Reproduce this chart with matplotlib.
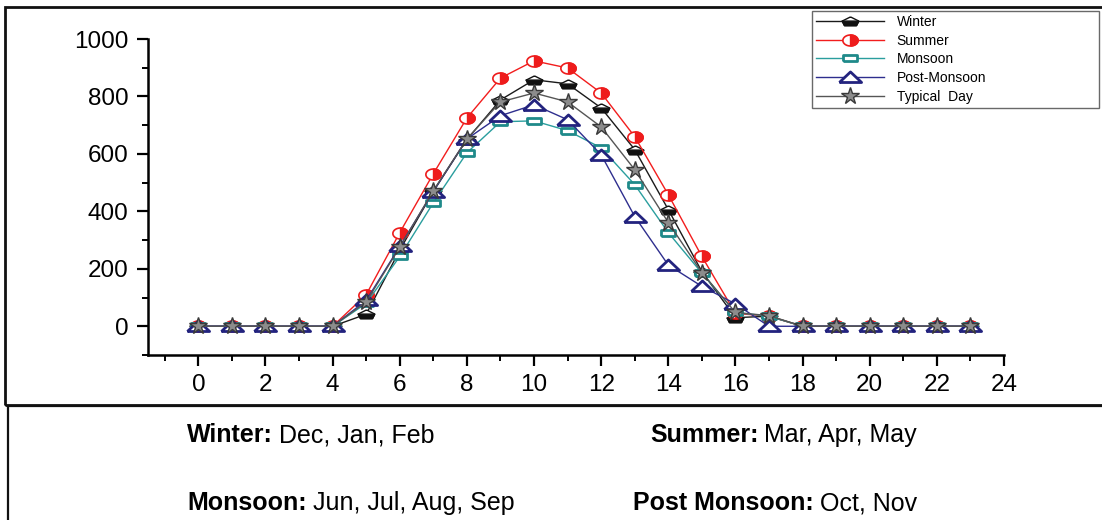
import numpy as np
import matplotlib
matplotlib.use("Agg")
import matplotlib.pyplot as plt
from matplotlib.patches import Rectangle
from matplotlib.ticker import MultipleLocator

plt.rcParams["font.family"] = ["Liberation Sans", "DejaVu Sans"]

hours = list(range(24))
winter = [0, 0, 0, 0, 0, 42, 265, 470, 650, 788, 858, 844, 760, 615, 406, 190, 30, 35, 0, 0, 0, 0, 0, 0]
summer = [0, 0, 0, 0, 0, 110, 326, 531, 725, 864, 924, 899, 812, 660, 458, 243, 45, 35, 0, 0, 0, 0, 0, 0]
monsoon = [0, 0, 0, 0, 0, 80, 243, 430, 604, 712, 715, 681, 621, 493, 326, 185, 48, 35, 0, 0, 0, 0, 0, 0]
post_monsoon = [0, 0, 0, 0, 0, 90, 278, 469, 652, 733, 771, 719, 597, 382, 213, 139, 78, 0, 0, 0, 0, 0, 0, 0]
typical_day = [0, 0, 0, 0, 0, 85, 275, 472, 652, 781, 812, 781, 694, 545, 361, 187, 48, 37, 0, 0, 0, 0, 0, 0]

series_labels = ["Winter", "Summer", "Monsoon", "Post-Monsoon", "Typical  Day"]

# (bold part, regular part, left px, centre y px)
season_notes = [
    ("Winter:", "Dec, Jan, Feb", 187, 435),
    ("Summer:", "Mar, Apr, May", 650, 435),
    ("Monsoon:", "Jun, Jul, Aug, Sep", 187, 503),
    ("Post Monsoon:", "Oct, Nov", 633, 503),
]

W, H = 1102, 520

# flattened marker shapes (full outline + filled half)
pent_full = [(0, 0.55), (1, 0.05), (0.72, -0.5), (-0.72, -0.5), (-1, 0.05), (0, 0.55)]
pent_half = [(1, 0.05), (0.72, -0.5), (-0.72, -0.5), (-1, 0.05), (1, 0.05)]
t = np.linspace(0, 2 * np.pi, 41)
ell_full = list(zip(np.cos(t), 0.72 * np.sin(t)))
th = np.linspace(-np.pi / 2, np.pi / 2, 21)
ell_half = list(zip(np.cos(th), 0.72 * np.sin(th))) + [(0, -0.72)]
rect = [(-1, -0.42), (1, -0.42), (1, 0.42), (-1, 0.42), (-1, -0.42)]
tri = [(-1, -0.45), (1, -0.45), (0, 0.5), (-1, -0.45)]

fig = plt.figure(figsize=(W / 100, H / 100), dpi=100)
ax = fig.add_axes([148 / W, 1 - 355 / H, (1004 - 148) / W, (355 - 39) / H])

lw = 1.0
# Winter
w_line, = ax.plot(hours, winter, color="#1a1a1a", lw=lw)
w_m1, = ax.plot(hours, winter, ls="none", marker=pent_full, ms=12, mfc="white", mec="#111111", mew=1.0)
w_m2, = ax.plot(hours, winter, ls="none", marker=pent_half, ms=12, mfc="#111111", mec="#111111", mew=1.0)
# Summer
s_line, = ax.plot(hours, summer, color="#f21d1d", lw=lw)
s_m1, = ax.plot(hours, summer, ls="none", marker=ell_full, ms=11, mfc="white", mec="#ee1c1c", mew=1.2)
s_m2, = ax.plot(hours, summer, ls="none", marker=ell_half, ms=11, mfc="#ee1c1c", mec="#ee1c1c", mew=1.0)
# Monsoon
m_line, = ax.plot(hours, monsoon, color="#2a9e9e", lw=lw, marker=rect, ms=10,
                  mfc="white", mec="#1f8a8a", mew=2.0)
# Post-Monsoon
p_line, = ax.plot(hours, post_monsoon, color="#2e2e8e", lw=lw, marker=tri, ms=16,
                  mfc="white", mec="#23237e", mew=2.0)
# Typical day
t_line, = ax.plot(hours, typical_day, color="#555555", lw=lw, marker="*", ms=13,
                  mfc="#8c8c8c", mec="#3a3a3a", mew=1.0)

ax.set_xlim(-1.5, 24)
ax.set_ylim(-100, 1000)
ax.xaxis.set_major_locator(MultipleLocator(2))
ax.xaxis.set_minor_locator(MultipleLocator(1))
ax.yaxis.set_major_locator(MultipleLocator(200))
ax.yaxis.set_minor_locator(MultipleLocator(100))
for s in ["top", "right"]:
    ax.spines[s].set_visible(False)
for s in ["left", "bottom"]:
    ax.spines[s].set_linewidth(1.8)
ax.tick_params(which="major", direction="out", length=8, width=1.6, labelsize=17.5, pad=6)
ax.tick_params(which="minor", direction="out", length=4.5, width=1.4)

leg = fig.legend([(w_line, w_m1, w_m2), (s_line, s_m1, s_m2), m_line, p_line, t_line],
                 series_labels,
                 loc="upper left", bbox_to_anchor=(812 / W, 1 - 11 / H, (1099 - 812) / W, 0.0),
                 bbox_transform=fig.transFigure, mode="expand", borderaxespad=0,
                 fontsize=10, handlelength=4.9, handletextpad=0.9, labelspacing=0.33,
                 borderpad=0.3, fancybox=False, frameon=True)
leg.get_frame().set_edgecolor("#444444")
leg.get_frame().set_linewidth(1.0)

# frames around the plot panel and the note panel
fig.patches.append(Rectangle((5 / W, 1 - 405 / H), 1.2, (405 - 7) / H, transform=fig.transFigure,
                             fill=False, ec="#111111", lw=2.0, clip_on=False))
fig.patches.append(Rectangle((8 / W, -0.2), 1.2, 0.2 + 1 - 406 / H, transform=fig.transFigure,
                             fill=False, ec="#111111", lw=1.6, clip_on=False))

renderer = fig.canvas.get_renderer()
for bold, rest, px, py in season_notes:
    tb = fig.text(px / W, 1 - py / H, bold, ha="left", va="center", fontsize=18, fontweight="bold")
    bb = tb.get_window_extent(renderer)
    fig.text((bb.x1 + 6) / W, 1 - py / H, rest, ha="left", va="center", fontsize=18)

fig.savefig("out.png", dpi=100)
